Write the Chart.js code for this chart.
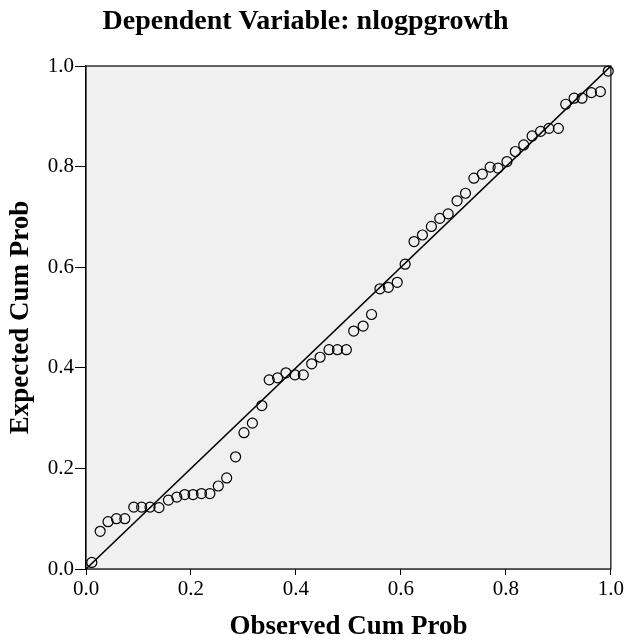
<!DOCTYPE html>
<html lang="en">
<head>
<meta charset="UTF-8">
<title>Normal P-P Plot</title>
<script src="https://cdn.jsdelivr.net/npm/chart.js@4.4.0/dist/chart.umd.min.js"></script>
<style>
  body { margin: 0; background: #fff; }
  #wrap { width: 626px; height: 641px; }
</style>
</head>
<body>
<div id="wrap"><canvas id="ppChart" width="626" height="641"></canvas></div>
<script>
// observed vs expected cumulative probability
const observedCum = [0.011, 0.027, 0.042, 0.058, 0.074, 0.091, 0.106, 0.122, 0.139, 0.157,
  0.173, 0.188, 0.204, 0.220, 0.236, 0.252, 0.268, 0.285, 0.301, 0.317,
  0.335, 0.349, 0.365, 0.381, 0.398, 0.414, 0.430, 0.446, 0.463, 0.479,
  0.496, 0.510, 0.528, 0.544, 0.560, 0.576, 0.593, 0.608, 0.625, 0.641,
  0.658, 0.674, 0.690, 0.707, 0.723, 0.739, 0.755, 0.770, 0.785, 0.802,
  0.818, 0.834, 0.850, 0.866, 0.882, 0.900, 0.914, 0.930, 0.945, 0.963,
  0.980, 0.995];
const expectedCum = [0.013, 0.075, 0.094, 0.100, 0.100, 0.123, 0.123, 0.123, 0.122, 0.137,
  0.143, 0.148, 0.148, 0.150, 0.150, 0.165, 0.181, 0.223, 0.271, 0.290,
  0.325, 0.376, 0.380, 0.390, 0.386, 0.386, 0.408, 0.421, 0.436, 0.436,
  0.436, 0.473, 0.483, 0.506, 0.557, 0.560, 0.570, 0.606, 0.651, 0.664,
  0.681, 0.697, 0.706, 0.732, 0.747, 0.777, 0.785, 0.799, 0.797, 0.810,
  0.830, 0.843, 0.861, 0.870, 0.876, 0.876, 0.924, 0.936, 0.936, 0.947,
  0.949, 0.990];
// reference diagonal
const diagX = [0, 1];
const diagY = [0, 1];

const serif = "'Liberation Serif', 'Times New Roman', serif";

const plotFrame = {
  id: 'plotFrame',
  beforeDatasetsDraw(chart) {
    const a = chart.chartArea, c = chart.ctx;
    c.save();
    c.fillStyle = '#f0f0f0';
    c.fillRect(a.left, a.top, a.right - a.left, a.bottom - a.top);
    c.restore();
  },
  afterDraw(chart) {
    const a = chart.chartArea, c = chart.ctx;
    c.save();
    c.strokeStyle = '#000';
    c.lineWidth = 1.2;
    c.strokeRect(a.left, a.top, a.right - a.left, a.bottom - a.top);
    c.restore();
  }
};

function makeAxis(tickLen, pad) {
  return {
    type: 'linear',
    min: 0,
    max: 1,
    grid: { display: true, drawOnChartArea: false, drawTicks: true, tickLength: tickLen, color: '#000' },
    border: { display: true, color: '#000', width: 1.2 },
    ticks: {
      stepSize: 0.2,
      color: '#000',
      padding: pad,
      font: { family: serif, size: 21 },
      callback: v => v.toFixed(1)
    }
  };
}

new Chart(document.getElementById('ppChart'), {
  type: 'scatter',
  data: {
    datasets: [
      {
        type: 'line',
        data: diagX.map((x, i) => ({ x: x, y: diagY[i] })),
        borderColor: '#000',
        borderWidth: 1.5,
        pointRadius: 0,
        fill: false
      },
      {
        data: observedCum.map((x, i) => ({ x: x, y: expectedCum[i] })),
        pointRadius: 5,
        pointBorderWidth: 1.2,
        pointBorderColor: '#000',
        pointBackgroundColor: 'rgba(0,0,0,0)',
        clip: false
      }
    ]
  },
  options: {
    responsive: false,
    animation: false,
    layout: { padding: { left: 0, right: 15, top: 0, bottom: 0 } },
    plugins: {
      legend: { display: false },
      tooltip: { enabled: false },
      title: {
        display: true,
        text: 'Dependent Variable: nlogpgrowth',
        color: '#000',
        font: { family: serif, size: 28, weight: 'bold', lineHeight: 1 },
        padding: { top: 8, bottom: 30 }
      }
    },
    scales: {
      x: Object.assign(makeAxis(6, 2), {
        position: 'bottom',
        afterFit: s => { s.height = 72; },
        title: {
          display: true,
          text: 'Observed Cum Prob',
          color: '#000',
          font: { family: serif, size: 27, weight: 'bold', lineHeight: 1 },
          padding: { top: 0, bottom: 0 }
        }
      }),
      y: Object.assign(makeAxis(11, 1), {
        position: 'left',
        afterFit: s => { s.width = 86; },
        title: {
          display: true,
          text: 'Expected Cum Prob',
          color: '#000',
          font: { family: serif, size: 27, weight: 'bold', lineHeight: 1 },
          padding: { top: 8, bottom: 0 }
        }
      })
    }
  },
  plugins: [plotFrame]
});
</script>
</body>
</html>
